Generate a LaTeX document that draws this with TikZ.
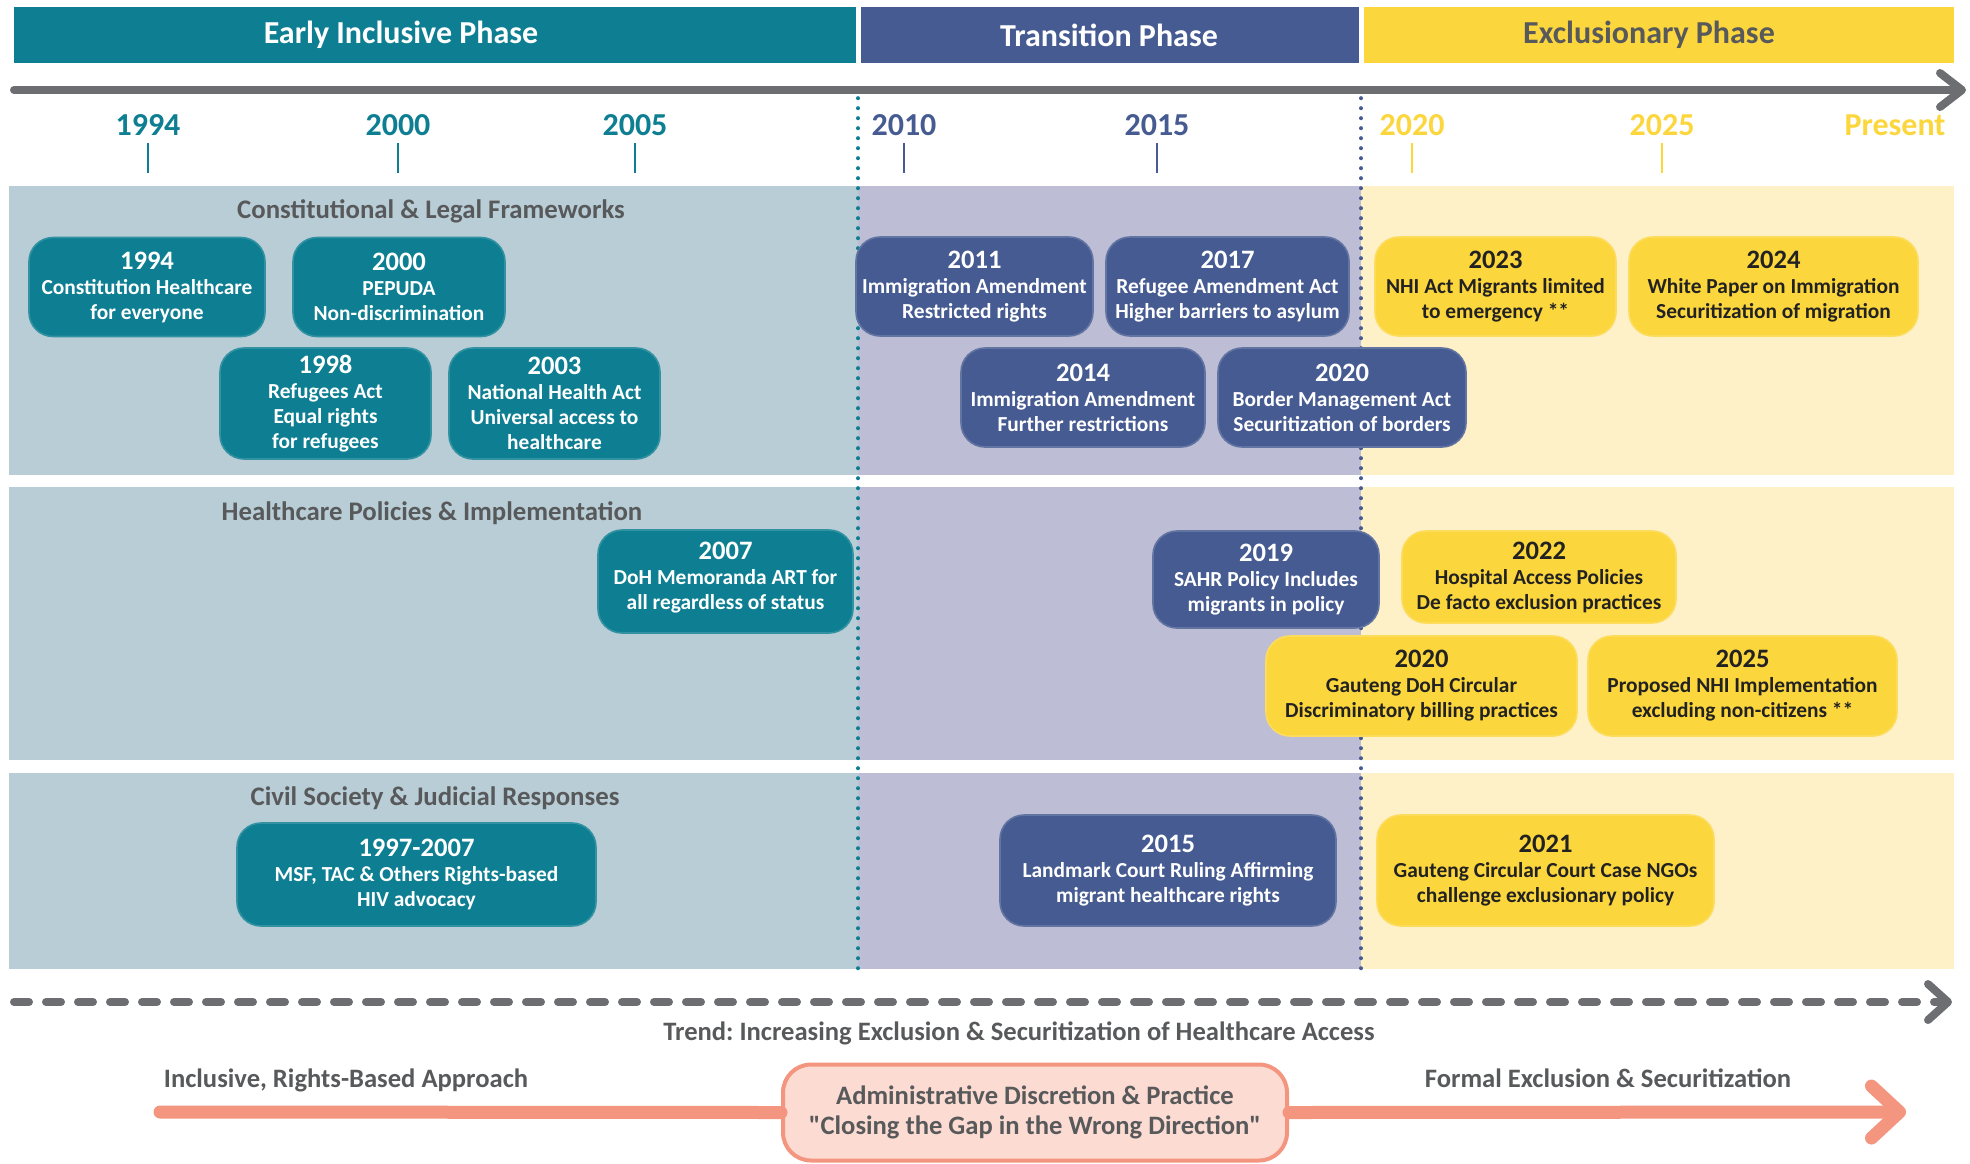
\documentclass[tikz,border=0pt]{standalone}
\usepackage{fontspec}
\setmainfont{Carlito}[Ligatures=TeXOff]
\usetikzlibrary{arrows.meta}

\definecolor{tealC}{HTML}{0E7F92}
\definecolor{blueC}{HTML}{465B91}
\definecolor{yellowC}{HTML}{FCD63D}
\definecolor{bandT}{HTML}{B8CDD6}
\definecolor{bandB}{HTML}{BDBED5}
\definecolor{bandY}{HTML}{FEF0C7}
\definecolor{greyC}{HTML}{6D6E71}
\definecolor{txtC}{HTML}{58595B}
\definecolor{darkC}{HTML}{222222}
\definecolor{salmonC}{HTML}{F4957F}
\definecolor{salmonL}{HTML}{FCDCD2}

\newcommand{\evyr}[1]{{\fontsize{13.3}{12.5}\selectfont #1}}

\tikzset{
  phase/.style={font=\bfseries\fontsize{16}{18}\selectfont, text=white},
  yearlbl/.style={font=\bfseries\fontsize{16}{18}\selectfont},
  seclbl/.style={font=\bfseries\fontsize{13.4}{15}\selectfont, text=txtC},
  note/.style={font=\bfseries\fontsize{13.3}{15}\selectfont, text=txtC},
  evbox/.style={rounded corners=12pt, fill=#1, draw=#1!85!white, line width=0.8pt,
    text=white, align=center, inner sep=0pt,
    font=\bfseries\fontsize{10.7}{12.5}\selectfont},
  evboxY/.style={evbox=yellowC, text=darkC},
  divline/.style={line width=1.8pt, line cap=round, dash pattern=on 0.2pt off 4.8pt},
  axis/.style={greyC, line width=4pt, line cap=round,
    -{Straight Barb[length=11pt, width=17pt, round]}},
  trendline/.style={greyC, line width=4pt, line cap=round, dash pattern=on 7.5pt off 8.5pt,
    -{Straight Barb[length=10pt, width=18pt, round]}},
  shiftline/.style={salmonC, line width=6.5pt, line cap=round},
  admbox/.style={rounded corners=14pt, fill=salmonL, draw=salmonC, line width=2pt,
    text=txtC, align=center, inner sep=0pt, minimum width=252pt, minimum height=48pt,
    font=\bfseries\fontsize{13.3}{15}\selectfont}
}

\begin{document}
\frenchspacing
\begin{tikzpicture}[x=0.5pt,y=-0.5pt]
\useasboundingbox (0,0) rectangle (1970,1163);

\fill[tealC] (14,7) rectangle (856,63);
\fill[blueC] (861,7) rectangle (1359,63);
\fill[yellowC] (1364,7) rectangle (1954,63);
\node[phase] (phEarly) at (401,35) {Early Inclusive Phase};
\node[phase] (phTrans) at (1109,35) {Transition Phase};
\node[phase, text=txtC] (phExcl) at (1649,35) {Exclusionary Phase};

\coordinate (axS) at (14,90);
\coordinate (axE) at (1966,90);
\draw[axis] (axS) -- (axE);

\foreach \x/\yr/\c in {148/1994/tealC, 398/2000/tealC, 635/2005/tealC, 904/2010/blueC,
                       1157/2015/blueC, 1412/2020/yellowC, 1662/2025/yellowC} {
  \node[yearlbl, text=\c] (yr\yr) at (\x,125) {\yr};
  \draw[\c, line width=1.3pt] (\x,143) -- (\x,173);
}
\node[yearlbl, text=yellowC] (yrNow) at (1895,125) {Present};

\foreach \ya/\yb in {186/475, 487/760, 773/969} {
  \fill[bandT] (9,\ya) rectangle (858,\yb);
  \fill[bandB] (858,\ya) rectangle (1361,\yb);
  \fill[bandY] (1361,\ya) rectangle (1954,\yb);
}
\draw[divline, tealC] (858,98) -- (858,969);
\draw[divline, blueC] (1361,98) -- (1361,969);

\node[seclbl] (secLegal) at (431,211) {Constitutional \& Legal Frameworks};
\node[seclbl] (secHealth) at (432,513) {Healthcare Policies \& Implementation};
\node[seclbl] (secCivil) at (435,798) {Civil Society \& Judicial Responses};

\node[evbox=tealC, minimum width=118pt, minimum height=49.5pt] (ev1994) at (147,287)
  {\evyr{1994}\\Constitution Healthcare\\for everyone};
\node[evbox=tealC, minimum width=106pt, minimum height=49.5pt] (ev2000) at (399,287)
  {\evyr{2000}\\PEPUDA\\Non-discrimination};
\node[evbox=tealC, minimum width=105.5pt, minimum height=55.5pt] (ev1998) at (325.5,403.5)
  {\evyr{1998}\\Refugees Act\\Equal rights\\for refugees};
\node[evbox=tealC, minimum width=105.5pt, minimum height=55.5pt] (ev2003) at (554.5,403.5)
  {\evyr{2003}\\National Health Act\\Universal access to\\healthcare};
\node[evbox=blueC, minimum width=118.5pt, minimum height=49.5pt] (ev2011) at (974.5,286.5)
  {\evyr{2011}\\Immigration Amendment\\Restricted rights};
\node[evbox=blueC, minimum width=121.5pt, minimum height=49.5pt] (ev2017) at (1227.5,286.5)
  {\evyr{2017}\\Refugee Amendment Act\\Higher barriers to asylum};
\node[evbox=blueC, minimum width=122pt, minimum height=49.5pt] (ev2014) at (1083,397.5)
  {\evyr{2014}\\Immigration Amendment\\Further restrictions};
\node[evbox=blueC, minimum width=124pt, minimum height=49.5pt] (ev2020b) at (1342,397.5)
  {\evyr{2020}\\Border Management Act\\Securitization of borders};
\node[evboxY, minimum width=120.5pt, minimum height=49.5pt] (ev2023) at (1495.5,286.5)
  {\evyr{2023}\\NHI Act Migrants limited\\to emergency **};
\node[evboxY, minimum width=144.5pt, minimum height=49.5pt] (ev2024) at (1773.5,286.5)
  {\evyr{2024}\\White Paper on Immigration\\Securitization of migration};

\node[evbox=tealC, minimum width=127.5pt, minimum height=51.5pt] (ev2007) at (725.5,581.5)
  {\evyr{2007}\\DoH Memoranda ART for\\all regardless of status\\[-7pt]};
\node[evbox=blueC, minimum width=113pt, minimum height=48.5pt] (ev2019) at (1266,579.5)
  {\evyr{2019}\\SAHR Policy Includes\\migrants in policy};
\node[evboxY, minimum width=137pt, minimum height=46pt] (ev2022) at (1539,577)
  {\evyr{2022}\\Hospital Access Policies\\De facto exclusion practices};
\node[evboxY, minimum width=155.5pt, minimum height=50pt] (ev2020g) at (1421.5,686)
  {\evyr{2020}\\Gauteng DoH Circular\\Discriminatory billing practices};
\node[evboxY, minimum width=154.5pt, minimum height=50pt] (ev2025) at (1742.5,686)
  {\evyr{2025}\\Proposed NHI Implementation\\excluding non-citizens **};

\node[evbox=tealC, minimum width=179.5pt, minimum height=51.5pt] (ev9707) at (416.5,874.5)
  {\evyr{1997-2007}\\MSF, TAC \& Others Rights-based\\HIV advocacy};
\node[evbox=blueC, minimum width=168pt, minimum height=55.5pt] (ev2015) at (1168,870.5)
  {\evyr{2015}\\Landmark Court Ruling Affirming\\migrant healthcare rights};
\node[evboxY, minimum width=168.5pt, minimum height=55.5pt] (ev2021) at (1545.5,870.5)
  {\evyr{2021}\\Gauteng Circular Court Case NGOs\\challenge exclusionary policy};

\coordinate (trS) at (14,1002);
\coordinate (trE) at (1952,1002);
\draw[trendline] (trS) -- (trE);
\node[note] (trendLbl) at (1019,1033)
  {Trend: Increasing Exclusion \& Securitization of Healthcare Access};

\node[note] (inclLbl) at (346,1080) {Inclusive, Rights-Based Approach};
\node[note] (formLbl) at (1608,1078) {Formal Exclusion \& Securitization};

\coordinate (incS) at (160,1112);
\coordinate (excE) at (1906,1112);
\node[admbox] (adm) at (1035,1112.5)
  {Administrative Discretion \& Practice\\"Closing the Gap in the Wrong Direction"};
\draw[shiftline] (incS) -- (adm.west);
\draw[shiftline, -{Straight Barb[length=14pt, width=26pt, round]}] (adm.east) -- (excE);
\end{tikzpicture}
\end{document}
